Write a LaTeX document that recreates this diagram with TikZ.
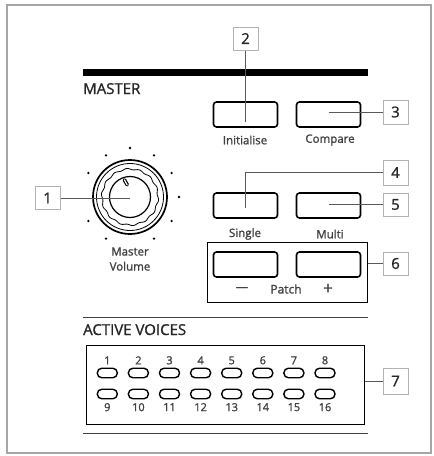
\documentclass[tikz,border=0pt]{standalone}
\usepackage{fontspec}
\setmainfont{Open Sans}[FakeBold=1.2]
\begin{document}
\begin{tikzpicture}[x=1pt,y=-1pt]

\tikzstyle{button}=[shape=rectangle, rounded corners=3pt,
    draw, line width=1.6pt, minimum width=64pt, minimum height=25pt, inner sep=0pt]
\tikzstyle{callout}=[shape=rectangle, draw=gray!60, line width=1pt, fill=white,
    minimum width=25pt, minimum height=23pt, inner sep=0pt,
    font=\fontsize{15}{15}\selectfont, text=black!85]
\tikzstyle{led}=[shape=rectangle, rounded corners=4.5pt,
    draw, line width=1.4pt, minimum width=20pt, minimum height=9.5pt, inner sep=0pt]
\tikzstyle{caption}=[font=\fontsize{11.5}{15}\selectfont, text=black!75, inner sep=0pt, align=center]
\tikzstyle{heading}=[font=\fontsize{15}{15}\selectfont, text=black!85, anchor=base west, inner sep=0pt]
\tikzstyle{num}=[font=\fontsize{11}{11}\selectfont, text=black!75, inner sep=0pt]
\tikzstyle{lead}=[draw=black!65, line width=1pt]

\useasboundingbox (0,0) rectangle (434,456);
\fill[white] (0,0) rectangle (434,456);

% panel
\draw[gray!70, line width=2pt] (7,5) rectangle (431,453);

% master
\draw[line width=7pt] (83,72) -- (368,72);
\node[heading] (DOC_master) at (83,94) {MASTER};

  \node[button] (initBtn) at (245.5,114.5) {};
  \node[button] (cmpBtn) at (328.5,114.5) {};
  \node[caption] (initText) at (245,140) {Initialise};
  \node[caption] (cmpText) at (330,140) {Compare};

  \node[button] (singleBtn) at (245.5,205.5) {};
  \node[button] (multiBtn) at (328.5,205.5) {};
  \node[caption] (singleText) at (245,234) {Single};
  \node[caption] (multiText) at (330,234) {Multi};

% patch
\node[draw, line width=1pt, minimum width=160pt, minimum height=60pt, inner sep=0pt] (patchBox) at (287,272) {};
  \node[button] (minusBtn) at (245.5,264.5) {};
  \node[button] (plusBtn) at (328.5,264.5) {};
  \node[caption, font=\fontsize{12}{12}\selectfont] (minusText) at (242,289) {---};
  \node[caption, font=\fontsize{12}{12}\selectfont] (patchText) at (286,289) {Patch};
  \node[caption, font=\fontsize{17}{17}\selectfont] (plusText) at (328,289) {+};

% volume knob
\coordinate (knob) at (130,197);
\fill[white] (knob) circle (37);
\draw[line width=1.7pt] (knob) circle (37);
\draw[line width=0.8pt] (knob) circle (33.5);
\draw[line width=0.8pt, shift={(knob)}] plot[domain=0:360, samples=181, smooth] (\x:{28+0.7*sin(14*\x)});
\draw[line width=1.2pt] (knob) circle (20.5);
\draw[line width=3.6pt, line cap=round] ([shift={(-108:18)}]knob) -- ([shift={(-103:12.5)}]knob);
\draw[white, line width=1.2pt, line cap=round] ([shift={(-108:18)}]knob) -- ([shift={(-103:12.5)}]knob);
\fill (knob) ++(-90:49) circle (1.3) (knob) ++(-60:48) circle (1.3)
      (knob) ++(-30:48) circle (1.3) (knob) ++(0:49) circle (1.3)
      (knob) ++(30:48) circle (1.3) (knob) ++(60:48) circle (1.3)
      (knob) ++(120:48) circle (1.3) (knob) ++(150:48) circle (1.3)
      (knob) ++(-150:48) circle (1.3) (knob) ++(-120:48) circle (1.3);
\node[caption] (knobText) at (130,259) {Master\\Volume};

% active voices
\draw[line width=1pt, black!75] (83,317) -- (368,317);
\node[heading] (DOC_voices) at (83,335) {ACTIVE VOICES};
\node[draw, line width=1pt, minimum width=278pt, minimum height=79pt, inner sep=0pt] (ledBox) at (225,384.5) {};

  \node[led, label={[num, label distance=3pt]above:1}] (led1) at (107.3,373) {};
  \node[led, label={[num, label distance=3pt]above:2}] (led2) at (138.4,373) {};
  \node[led, label={[num, label distance=3pt]above:3}] (led3) at (169.5,373) {};
  \node[led, label={[num, label distance=3pt]above:4}] (led4) at (200.6,373) {};
  \node[led, label={[num, label distance=3pt]above:5}] (led5) at (231.7,373) {};
  \node[led, label={[num, label distance=3pt]above:6}] (led6) at (262.8,373) {};
  \node[led, label={[num, label distance=3pt]above:7}] (led7) at (293.9,373) {};
  \node[led, label={[num, label distance=3pt]above:8}] (led8) at (325,373) {};

  \node[led, label={[num, label distance=3.5pt]below:9}] (led9) at (107.3,394) {};
  \node[led, label={[num, label distance=3.5pt]below:10}] (led10) at (138.4,394) {};
  \node[led, label={[num, label distance=3.5pt]below:11}] (led11) at (169.5,394) {};
  \node[led, label={[num, label distance=3.5pt]below:12}] (led12) at (200.6,394) {};
  \node[led, label={[num, label distance=3.5pt]below:13}] (led13) at (231.7,394) {};
  \node[led, label={[num, label distance=3.5pt]below:14}] (led14) at (262.8,394) {};
  \node[led, label={[num, label distance=3.5pt]below:15}] (led15) at (293.9,394) {};
  \node[led, label={[num, label distance=3.5pt]below:16}] (led16) at (325,394) {};

\draw[line width=1pt, black!75] (83,433) -- (368,433);

% callouts
\node[callout] (lbl1) at (47.5,198) {1};
\node[callout] (lbl2) at (245.5,38.5) {2};
\node[callout, minimum height=24pt] (lbl3) at (395.5,112) {3};
\node[callout, minimum height=25pt] (lbl4) at (395.5,172.5) {4};
\node[callout] (lbl5) at (395.5,204.5) {5};
\node[callout] (lbl6) at (395.5,263.5) {6};
\node[callout, minimum height=26pt] (lbl7) at (395.5,381) {7};

\draw[lead] (lbl1) -- (lbl1 -| knob);
\draw[lead] (lbl2) -- ([yshift=-7pt]initBtn.center);
\draw[lead] (cmpBtn.center |- lbl3) -- (lbl3);
\draw[lead] (lbl4) -| ([yshift=-2pt]singleBtn.center);
\draw[lead] (multiBtn.center |- lbl5) -- (lbl5);
\draw[lead] (patchBox.east |- lbl6) -- (lbl6);
\draw[lead] (ledBox.east |- lbl7) -- (lbl7);

\end{tikzpicture}
\end{document}
